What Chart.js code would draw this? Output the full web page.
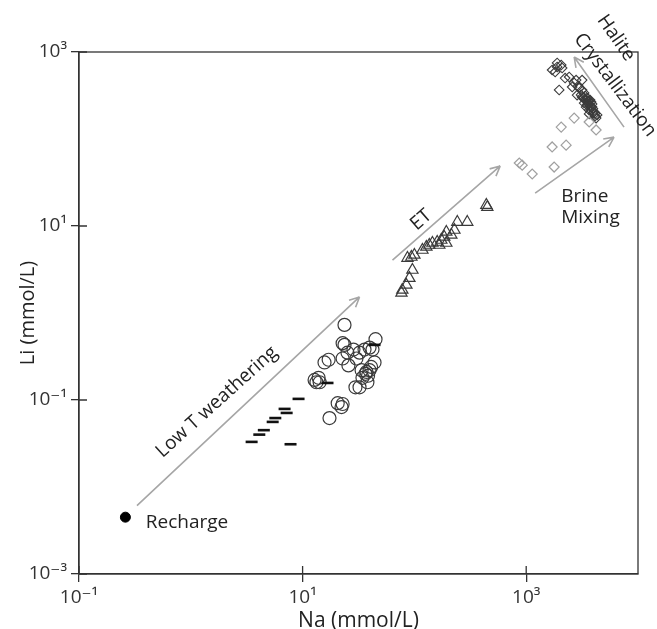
<!DOCTYPE html>
<html>
<head>
<meta charset="utf-8">
<script src="https://cdn.jsdelivr.net/npm/chart.js@4.4.1/dist/chart.umd.min.js"></script>
<style>
  html, body { margin: 0; padding: 0; background: #fff; }
</style>
</head>
<body>
<canvas id="liNaChart" width="657" height="629"></canvas>
<script>
// Na / Li concentrations (mmol/L)
const rechargeNa = [0.26];
const rechargeLi = [0.0045];

const dashNa = [9.2, 6.9, 7.2, 5.7, 5.4, 4.5, 4.1, 3.5, 7.8, 16.7, 44];
const dashLi = [0.103, 0.079, 0.071, 0.062, 0.056, 0.045, 0.040, 0.033, 0.031, 0.157, 0.43];

const circleNa = [23.7, 22.8, 23.7, 28.5, 25.2, 22.8, 25.7, 30.3, 32.3, 35.8, 39.7, 44.9, 42.2, 44,
  33.7, 37.3, 39.7, 34.3, 38.0, 29.7, 32.3, 17.1, 15.7, 12.8, 13.9, 14.2, 20.6, 22.3, 22.8, 17.4,
  13.3, 36.5, 41.0, 38.5];
const circleLi = [0.73, 0.45, 0.43, 0.38, 0.35, 0.30, 0.25, 0.30, 0.35, 0.38, 0.40, 0.50, 0.38, 0.27,
  0.22, 0.21, 0.22, 0.18, 0.16, 0.14, 0.14, 0.29, 0.27, 0.17, 0.18, 0.16, 0.092, 0.083, 0.090, 0.062,
  0.16, 0.20, 0.24, 0.19];

const triNa = [76.6, 78, 84.8, 90.2, 96, 86.7, 94, 100, 118, 128, 136, 145, 160, 174, 185, 193, 214,
  228, 242, 297, 440, 449, 167, 193];
const triLi = [1.70, 1.84, 2.10, 2.52, 3.12, 4.28, 4.40, 4.65, 5.30, 5.74, 6.05, 6.38, 6.55, 6.90, 7.48,
  8.54, 7.89, 9.0, 11.1, 11.1, 17.4, 16.5, 6.05, 6.38];

const mixNa = [867, 921, 1132, 1778, 1706, 2275, 2056, 2685, 3656, 4220];
const mixLi = [53, 50, 39.6, 47.6, 81, 85, 137, 174, 157, 127];

const haliteNa = [1706, 1892, 2056, 2096, 1972, 2422, 2794, 3162, 2578, 2973, 2852, 3162, 3434, 3508,
  3804, 3656, 4046, 4220, 4306, 3296, 3804, 3882, 3580, 3700, 3950, 3370, 3620, 4120,
  3097, 3228, 3366, 3508, 3580, 3727, 3656, 3882, 3804, 3963, 4130, 3296, 3434, 3656, 3162, 2911,
  2685, 2228, 1892, 1816];
const haliteLi = [621, 748, 709, 655, 366, 516, 476, 476, 396, 385, 320, 304, 281, 246,
  233, 215, 204, 174, 189, 338, 266, 233, 255, 240, 222, 290, 270, 196,
  321, 296, 312, 296, 274, 281, 252, 252, 215, 199, 184, 259, 233, 194, 366, 406,
  441, 502, 673, 589];

const xTicks = [0.1, 10, 1000];
const xTickLabels = ['10⁻¹', '10¹', '10³'];
const yTicks = [0.001, 0.1, 10, 1000];
const yTickLabels = ['10⁻³', '10⁻¹', '10¹', '10³'];

// annotation arrows and texts, in data units
const arrows = [
  { from: [0.33, 0.0061], to: [32.3, 1.53] },
  { from: [63.7, 4.06], to: [586, 49] },
  { from: [1202, 23.9], to: [6109, 105] },
  { from: [7499, 137], to: [2685, 877] },
];
const notes = [
  { text: 'Recharge', at: [0.396, 0.00385], angle: 0, align: 'left' },
  { text: 'Low T weathering', at: [1.71, 0.095], angle: -42, align: 'center' },
  { text: 'ET', at: [115, 11.7], angle: -41, align: 'center' },
  { text: 'Brine', at: [2054, 21.5], angle: 0, align: 'left' },
  { text: 'Mixing', at: [2054, 12.4], angle: 0, align: 'left' },
  { text: 'Halite', at: [6368, 1449], angle: 55, align: 'center' },
  { text: 'Crystallization', at: [6237, 418], angle: 53, align: 'center' },
];

const FONT = "'Open Sans', 'DejaVu Sans', sans-serif";
const toPoints = (xs, ys) => xs.map((x, i) => ({ x: x, y: ys[i] }));

// frame, inward tick marks, arrows and text labels
const overlay = {
  id: 'overlay',
  afterDraw(chart) {
    const ctx = chart.ctx;
    const a = chart.chartArea;
    const xs = chart.scales.x, ys = chart.scales.y;
    ctx.save();
    ctx.strokeStyle = '#333';
    ctx.lineWidth = 1.3;
    ctx.strokeRect(a.left, a.top, a.right - a.left, a.bottom - a.top);
    ctx.beginPath();
    xTicks.forEach(v => {
      const px = xs.getPixelForValue(v);
      ctx.moveTo(px, a.bottom); ctx.lineTo(px, a.bottom - 8);
    });
    yTicks.forEach(v => {
      const py = ys.getPixelForValue(v);
      ctx.moveTo(a.left, py); ctx.lineTo(a.left + 8, py);
    });
    ctx.stroke();

    ctx.strokeStyle = '#a6a6a6';
    ctx.lineWidth = 1.6;
    arrows.forEach(ar => {
      const x0 = xs.getPixelForValue(ar.from[0]), y0 = ys.getPixelForValue(ar.from[1]);
      const x1 = xs.getPixelForValue(ar.to[0]), y1 = ys.getPixelForValue(ar.to[1]);
      const ang = Math.atan2(y1 - y0, x1 - x0);
      ctx.beginPath();
      ctx.moveTo(x0, y0); ctx.lineTo(x1, y1);
      [0.45, -0.45].forEach(d => {
        ctx.moveTo(x1, y1);
        ctx.lineTo(x1 - 11 * Math.cos(ang + d), y1 - 11 * Math.sin(ang + d));
      });
      ctx.stroke();
    });

    ctx.fillStyle = '#222';
    ctx.font = '19px ' + FONT;
    ctx.textBaseline = 'middle';
    notes.forEach(n => {
      ctx.save();
      ctx.translate(xs.getPixelForValue(n.at[0]), ys.getPixelForValue(n.at[1]));
      ctx.rotate(n.angle * Math.PI / 180);
      ctx.textAlign = n.align;
      ctx.fillText(n.text, 0, 0);
      ctx.restore();
    });
    ctx.restore();
  }
};

const ctx = document.getElementById('liNaChart').getContext('2d');
const liNaChart = new Chart(ctx, {
  type: 'scatter',
  data: {
    datasets: [
      {
        label: 'Recharge',
        data: toPoints(rechargeNa, rechargeLi),
        pointStyle: 'circle', pointRadius: 5,
        backgroundColor: '#000', borderColor: '#000', borderWidth: 1,
      },
      {
        label: 'Low T',
        data: toPoints(dashNa, dashLi),
        pointStyle: 'line', pointRadius: 6,
        borderColor: '#111', borderWidth: 2.6,
      },
      {
        label: 'Weathering',
        data: toPoints(circleNa, circleLi),
        pointStyle: 'circle', pointRadius: 6.5,
        backgroundColor: 'rgba(0,0,0,0)', borderColor: '#3a3a3a', borderWidth: 1.2,
      },
      {
        label: 'ET',
        data: toPoints(triNa, triLi),
        pointStyle: 'triangle', pointRadius: 6.5,
        backgroundColor: 'rgba(0,0,0,0)', borderColor: '#3a3a3a', borderWidth: 1.2,
      },
      {
        label: 'Brine mixing',
        data: toPoints(mixNa, mixLi),
        pointStyle: 'rectRot', pointRadius: 5,
        backgroundColor: 'rgba(0,0,0,0)', borderColor: '#a0a0a0', borderWidth: 1.2,
      },
      {
        label: 'Halite',
        data: toPoints(haliteNa, haliteLi),
        pointStyle: 'rectRot', pointRadius: 4.8,
        backgroundColor: 'rgba(0,0,0,0)', borderColor: '#3c3c3c', borderWidth: 1.1,
      },
    ],
  },
  options: {
    responsive: false,
    animation: false,
    devicePixelRatio: 1,
    layout: { padding: { top: 52, right: 19, left: 0, bottom: 0 } },
    plugins: { legend: { display: false }, tooltip: { enabled: false } },
    scales: {
      x: {
        type: 'logarithmic',
        min: 0.1, max: 10000,
        afterBuildTicks: s => { s.ticks = xTicks.map(v => ({ value: v })); },
        afterFit: s => { s.height = 55; },
        grid: { drawOnChartArea: false, tickLength: 8, color: '#333', lineWidth: 1.3 },
        border: { color: '#333', width: 1.3 },
        ticks: {
          autoSkip: false, maxRotation: 0, padding: 4, color: '#333',
          font: { family: FONT, size: 19 },
          callback: (v, i) => xTickLabels[i],
        },
        title: {
          display: true, text: 'Na (mmol/L)', color: '#222',
          font: { family: FONT, size: 21 }, padding: { top: 0, bottom: -5 },
        },
      },
      y: {
        type: 'logarithmic',
        min: 0.001, max: 1000,
        afterBuildTicks: s => { s.ticks = yTicks.map(v => ({ value: v })); },
        afterFit: s => { s.width = 79; },
        grid: { drawOnChartArea: false, tickLength: 8, color: '#333', lineWidth: 1.3 },
        border: { color: '#333', width: 1.3 },
        ticks: {
          autoSkip: false, padding: 4, color: '#333',
          font: { family: FONT, size: 19 },
          callback: (v, i) => yTickLabels[i],
        },
        title: {
          display: true, text: 'Li (mmol/L)', color: '#222',
          font: { family: FONT, size: 20 }, padding: { top: 16, bottom: 0 },
        },
      },
    },
  },
  plugins: [overlay],
});
</script>
</body>
</html>
